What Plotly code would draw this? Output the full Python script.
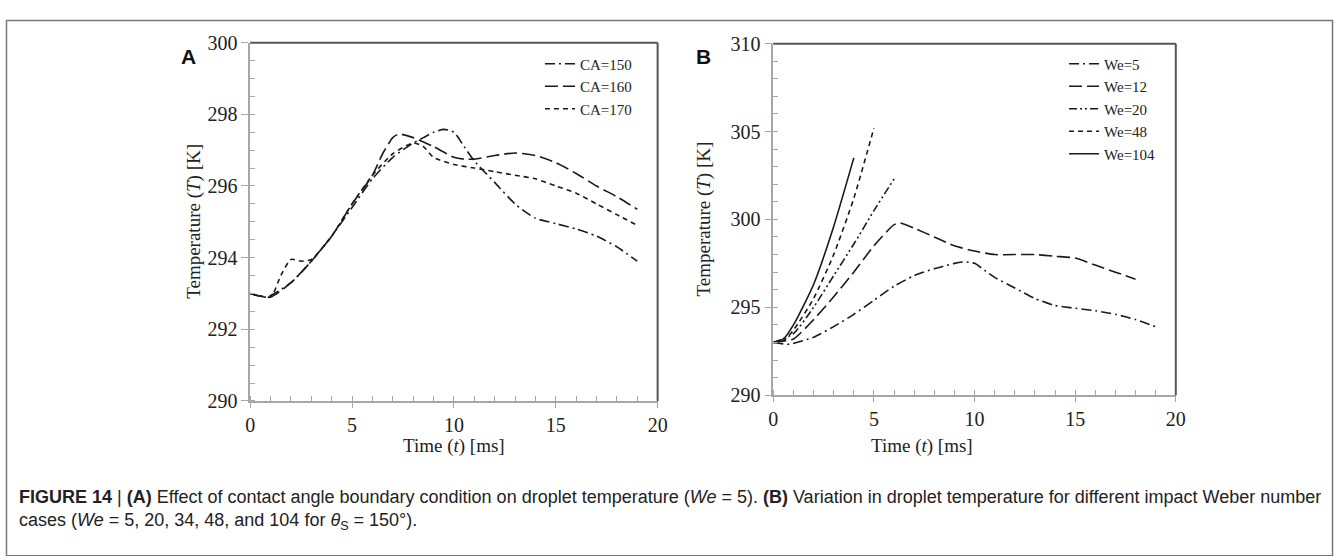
import plotly.graph_objects as go

# ---------------- data ----------------
# Panel A (We = 5), contact angle cases
ca150_t = [0, 0.8, 2, 3, 4, 5, 6, 7, 8, 8.5, 9, 9.5, 10, 10.5, 11, 12, 13, 14, 15, 16, 17, 18, 19]
ca150_T = [293.0, 292.9, 293.3, 293.9, 294.6, 295.4, 296.2, 296.8, 297.2, 297.35, 297.5, 297.58, 297.5,
           297.1, 296.7, 296.1, 295.5, 295.1, 294.95, 294.8, 294.6, 294.3, 293.9]

ca160_t = [0, 1, 2, 3, 4, 5, 6, 6.5, 7, 7.3, 8, 9, 10, 10.5, 11, 12, 13, 14, 15, 16, 17, 18, 19]
ca160_T = [293.0, 292.9, 293.3, 293.9, 294.6, 295.5, 296.3, 296.9, 297.35, 297.45, 297.35, 297.1, 296.8,
           296.75, 296.75, 296.85, 296.92, 296.85, 296.65, 296.35, 296.0, 295.7, 295.35]

ca170_t = [0, 1, 1.5, 2, 2.5, 3, 4, 5, 6, 7, 8, 8.5, 9, 10, 11, 12, 13, 14, 15, 16, 17, 18, 19]
ca170_T = [293.0, 292.9, 293.5, 293.95, 293.9, 293.95, 294.6, 295.5, 296.3, 296.9, 297.2, 297.1, 296.8,
           296.6, 296.5, 296.4, 296.3, 296.2, 296.0, 295.8, 295.5, 295.2, 294.9]

# Panel B (theta_s = 150), Weber number cases
we5_t = ca150_t
we5_T = ca150_T

we12_t = [0, 1, 2, 3, 4, 5, 6, 6.3, 7, 8, 9, 10, 11, 12, 13, 14, 15, 16, 17, 18]
we12_T = [293.0, 293.2, 294.3, 295.6, 297.0, 298.5, 299.7, 299.8, 299.5, 299.0, 298.5, 298.2, 298.0,
          298.0, 298.0, 297.9, 297.8, 297.4, 297.0, 296.6]

we20_t = [0, 1, 2, 3, 4, 5, 6]
we20_T = [293.0, 293.5, 295.0, 296.8, 298.6, 300.5, 302.3]

we48_t = [0, 0.5, 1, 2, 3, 4, 5]
we48_T = [293.0, 293.1, 293.7, 295.5, 298.0, 301.2, 305.2]

we104_t = [0, 0.5, 1, 2, 3, 4]
we104_T = [293.0, 293.2, 294.0, 296.3, 299.6, 303.5]

names_a = ["CA=150", "CA=160", "CA=170"]
names_b = ["We=5", "We=12", "We=20", "We=48", "We=104"]

x_ticks = [0, 5, 10, 15, 20]
y_ticks_a = [290, 292, 294, 296, 298, 300]
y_ticks_b = [290, 295, 300, 305, 310]

# ---------------- styling ----------------
W, H = 1344, 556
LINE = "#1a1a1a"
AXC = "#a6a6a6"
SERIF = "Liberation Serif, Times New Roman, serif"
SANS = "Liberation Sans, Arial, sans-serif"

def px(x):
    return x / W

def py(y):
    return 1 - y / H

dash_a = ["10px,4px,2px,4px", "13px,5px", "5px,4px"]
dash_b = ["10px,4px,2px,4px", "13px,5px", "8px,3px,2px,3px,2px,3px", "5px,4px", "solid"]

fig = go.Figure()
for t, T, nm, d in zip([ca150_t, ca160_t, ca170_t], [ca150_T, ca160_T, ca170_T], names_a, dash_a):
    fig.add_trace(go.Scatter(x=t, y=T, name=nm, mode="lines", line=dict(color=LINE, width=1.6, dash=d,
                             shape="spline", smoothing=0.6), xaxis="x", yaxis="y", legend="legend"))
for t, T, nm, d in zip([we5_t, we12_t, we20_t, we48_t, we104_t], [we5_T, we12_T, we20_T, we48_T, we104_T],
                       names_b, dash_b):
    fig.add_trace(go.Scatter(x=t, y=T, name=nm, mode="lines", line=dict(color=LINE, width=1.6, dash=d,
                             shape="spline", smoothing=0.6), xaxis="x2", yaxis="y2", legend="legend2"))

ax_common = dict(showgrid=False, zeroline=False, showline=True, linecolor=AXC, linewidth=1.5,
                 ticks="outside", ticklen=5, tickcolor=AXC, tickwidth=1,
                 tickfont=dict(family=SERIF, size=20, color="#222"),
                 minor=dict(ticks="inside", ticklen=5, tickcolor=AXC, tickwidth=1))

# panel geometry (pixels)
A_x0, A_x1, A_y0, A_y1 = 248, 660, 33, 406
B_x0, B_x1, B_y0, B_y1 = 777, 1184, 34, 400

fig.update_layout(
    width=W, height=H, margin=dict(l=0, r=0, t=0, b=0),
    paper_bgcolor="white", plot_bgcolor="white", showlegend=True,
    xaxis=dict(ax_common, domain=[px(A_x0), px(A_x1)], range=[0, 20], tickvals=x_ticks,
               minor=dict(ax_common["minor"], dtick=1), anchor="y"),
    yaxis=dict(ax_common, domain=[py(A_y1), py(A_y0)], range=[290, 300], tickvals=y_ticks_a, ticklen=7,
               minor=dict(ax_common["minor"], dtick=0.5), anchor="x"),
    xaxis2=dict(ax_common, domain=[px(B_x0), px(B_x1)], range=[0, 20], tickvals=x_ticks,
                minor=dict(ax_common["minor"], dtick=1), anchor="y2"),
    yaxis2=dict(ax_common, domain=[py(B_y1), py(B_y0)], range=[290, 310], tickvals=y_ticks_b, ticklen=7,
                minor=dict(ax_common["minor"], dtick=1), anchor="x2"),
    legend=dict(x=px(541), y=py(38), xanchor="left", yanchor="top", bgcolor="rgba(0,0,0,0)",
                font=dict(family=SERIF, size=15, color="#222"), tracegroupgap=0, itemwidth=30),
    legend2=dict(x=px(1071), y=py(38), xanchor="left", yanchor="top", bgcolor="rgba(0,0,0,0)",
                 font=dict(family=SERIF, size=15, color="#222"), tracegroupgap=0, itemwidth=30),
)

shapes = []
# dark top and right frame of each plot
for (x0, x1, y0, y1) in [(A_x0, A_x1, A_y0, A_y1), (B_x0, B_x1, B_y0, B_y1)]:
    shapes.append(dict(type="line", xref="paper", yref="paper", x0=px(x0), x1=px(x1), y0=py(y0), y1=py(y0),
                       line=dict(color="#555", width=2)))
    shapes.append(dict(type="line", xref="paper", yref="paper", x0=px(x1), x1=px(x1), y0=py(y0), y1=py(y1),
                       line=dict(color="#555", width=2)))
# outer figure frame
shapes.append(dict(type="rect", xref="paper", yref="paper", x0=px(1.5), x1=px(1342.5), y0=-0.02, y1=py(10),
                   line=dict(color="#777", width=1.5)))
fig.update_layout(shapes=shapes)

ann = []
# panel letters
ann.append(dict(text="<b>A</b>", x=px(176), y=py(33), xref="paper", yref="paper", showarrow=False,
                font=dict(family=SANS, size=21, color="#111")))
ann.append(dict(text="<b>B</b>", x=px(706), y=py(33), xref="paper", yref="paper", showarrow=False,
                font=dict(family=SANS, size=21, color="#111")))
# axis titles
for cx, cy in [(178, (A_y0 + A_y1) / 2), (707, (B_y0 + B_y1) / 2)]:
    ann.append(dict(text="Temperature (<i>T</i>) [K]", x=px(cx), y=py(cy), xref="paper", yref="paper",
                    showarrow=False, textangle=-90, font=dict(family=SERIF, size=19, color="#222")))
for cx in [(A_x0 + A_x1) / 2, (B_x0 + B_x1) / 2]:
    ann.append(dict(text="Time (<i>t</i>) [ms]", x=px(cx), y=py(466), xref="paper", yref="paper",
                    showarrow=False, font=dict(family=SERIF, size=19, color="#222")))
# caption
ann.append(dict(text="<b>FIGURE 14</b> | <b>(A)</b> Effect of contact angle boundary condition on droplet temperature "
                     "(<i>We</i> = 5). <b>(B)</b> Variation in droplet temperature for different impact Weber number",
                x=px(12), y=py(518), xref="paper", yref="paper", xanchor="left", showarrow=False,
                font=dict(family=SANS, size=18, color="#222")))
ann.append(dict(text="cases (<i>We</i> = 5, 20, 34, 48, and 104 for <i>θ</i><sub>S</sub> = 150°).",
                x=px(12), y=py(546), xref="paper", yref="paper", xanchor="left", showarrow=False,
                font=dict(family=SANS, size=18, color="#222")))
fig.update_layout(annotations=ann)

fig.write_html("out.html")
